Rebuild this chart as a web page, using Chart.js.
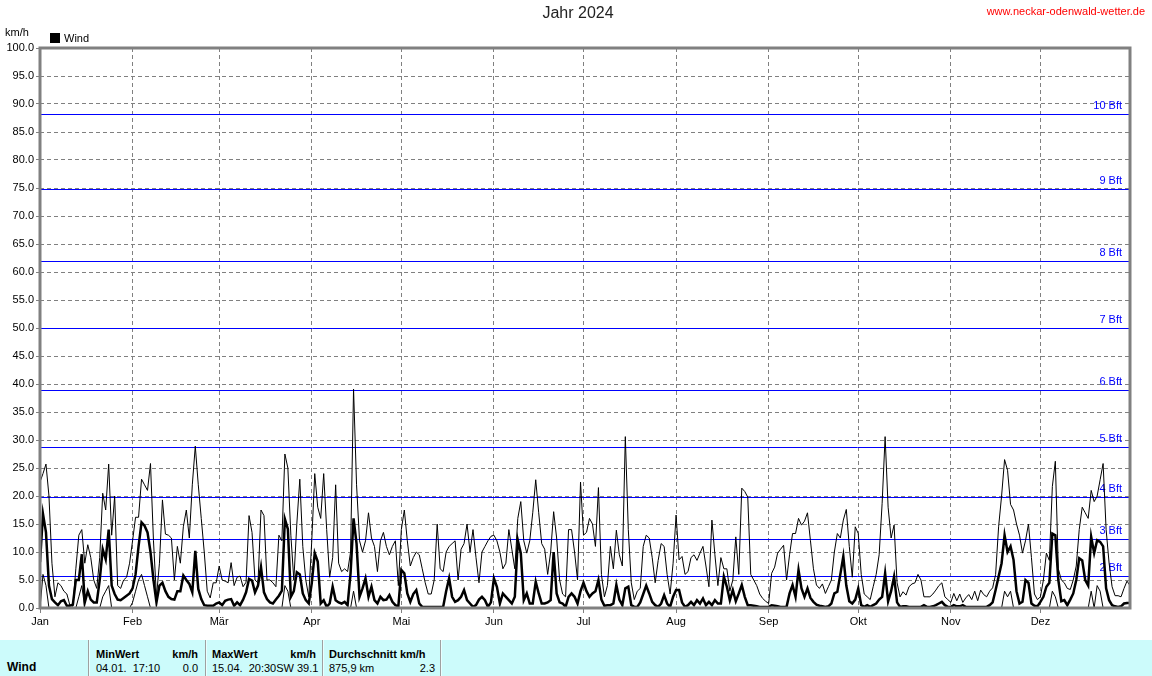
<!DOCTYPE html>
<html lang="de">
<head>
<meta charset="UTF-8">
<title>Jahr 2024 - Wind</title>
<script src="https://cdnjs.cloudflare.com/ajax/libs/Chart.js/4.4.0/chart.umd.min.js"></script>
<style>
    body { margin: 0; background: #fff; font-family: "Liberation Sans", Arial, sans-serif; }
    #wrap { position: relative; width: 1152px; height: 676px; overflow: hidden; }
    #chart { position: absolute; left: 0; top: 0; }
    .txt { position: absolute; white-space: nowrap; font-size: 11px; line-height: 12px; color: #000; }
    #title { left: 0; width: 1156px; text-align: center; top: 4px; font-size: 16px; line-height: 18px; color: #222; }
    #url { right: 7px; top: 5px; color: #ff0000; }
    #unit { left: 5px; top: 26px; }
    #legendBox { position: absolute; left: 50px; top: 33px; width: 10px; height: 10px; background: #000; }
    #legendText { left: 64px; top: 32px; }
    #table { position: absolute; left: 0; top: 640px; width: 1152px; height: 36px; background: #ccfbfb; }
    .sep { position: absolute; top: 0; width: 1px; height: 36px; background: #a0a0a0; border-right: 1px solid #e8ffff; }
    .b { font-weight: bold; }
    .r { text-align: right; }
</style>
</head>
<body>
<div id="wrap">
    <canvas id="chart" width="1152" height="640"></canvas>
    <div class="txt" id="title">Jahr 2024</div>
    <div class="txt" id="url">www.neckar-odenwald-wetter.de</div>
    <div class="txt" id="unit">km/h</div>
    <div id="legendBox"></div>
    <div class="txt" id="legendText">Wind</div>

    <div id="table">
        <div class="sep" style="left:88px"></div>
        <div class="sep" style="left:205px"></div>
        <div class="sep" style="left:322px"></div>
        <div class="sep" style="left:440px"></div>
        <div class="txt b" style="left:7px; top:21px; font-size:12px;">Wind</div>

        <div class="txt b" style="left:96px; top:8px;">MinWert</div>
        <div class="txt b r" style="right:954px; top:8px;">km/h</div>
        <div class="txt" style="left:96px; top:22px;">04.01.&nbsp; 17:10</div>
        <div class="txt r" style="right:954px; top:22px;">0.0</div>

        <div class="txt b" style="left:212px; top:8px;">MaxWert</div>
        <div class="txt b r" style="right:836px; top:8px;">km/h</div>
        <div class="txt" style="left:212px; top:22px;">15.04.&nbsp; 20:30SW 39.1</div>

        <div class="txt b" style="left:329px; top:8px;">Durchschnitt km/h</div>
        <div class="txt" style="left:329px; top:22px;">875,9 km</div>
        <div class="txt r" style="right:717px; top:22px;">2.3</div>
    </div>
</div>

<script>
    // month starts (day index in 2024) and their labels
    const monthStarts = [0, 31, 60, 91, 121, 152, 182, 213, 244, 274, 305, 335];
    const monthNames = ['Jan', 'Feb', 'Mär', 'Apr', 'Mai', 'Jun', 'Jul', 'Aug', 'Sep', 'Okt', 'Nov', 'Dez'];

    // Beaufort limits in km/h
    const bftLimits = [5.76, 12.24, 19.8, 28.8, 38.88, 50.04, 61.92, 74.88, 88.2];
    const bftLabels = ['2 Bft', '3 Bft', '4 Bft', '5 Bft', '6 Bft', '7 Bft', '8 Bft', '9 Bft', '10 Bft'];

    // daily maximum (km/h), one value per day
    const windMax = [
        22.5, 24, 25.7, 20, 8, 2, 4.5, 4, 3, 2.5, 0.5, 0.3, 7, 13, 14, 8, 11.3, 9, 5, 3.5, 9, 20.5, 17.5, 25.7, 13, 20, 4, 3.5, 5, 5.5, 8,
        12, 16.2, 16.2, 23, 22, 21, 25.8, 12, 2, 8, 19.3, 13.2, 13, 12.5, 5, 11, 8, 14.5, 17.5, 12.5, 22, 28.9, 22, 16, 10, 3, 1.8, 4.5, 4.5,
        7.5, 5, 4.8, 4.5, 8.1, 4, 5.5, 5.7, 3.8, 4.6, 16.5, 13.5, 5, 4.5, 17.5, 16.5, 5, 5, 4.5, 3.8, 13, 12, 27.5, 25, 13, 5, 15, 23, 11, 5, 2,
        12, 24, 18, 16, 24, 14, 5.5, 9, 22, 8, 6.5, 7, 6.5, 10, 39.1, 22, 12, 10, 12, 17, 12.5, 11, 6.5, 12, 13.5, 11, 9.5, 11, 12, 4,
        14, 17.5, 12, 7.5, 9, 10, 9.5, 7, 4.5, 2.5, 2.5, 5, 15, 7, 6.5, 10, 11, 11.5, 12, 5, 10.5, 11.5, 15, 10, 14, 9, 4.5, 10, 11, 12, 12.8,
        13, 12, 10, 7, 8, 14, 10.5, 7, 16, 19, 12, 9.8, 12, 17, 22.9, 17, 11.5, 10.5, 6, 10, 17.2, 12.5, 5, 2.5, 2, 14, 14, 10, 5, 22.5,
        13, 13.5, 16, 15, 11, 21.5, 6, 2, 4, 11, 7, 13.9, 9.5, 7.5, 30.6, 14, 4.5, 1.5, 3, 3.5, 11, 13, 12.5, 9, 4.5, 8.5, 11.5, 11, 6, 2.5, 8,
        16.6, 8.6, 9.2, 6, 6.5, 9, 9.5, 8.5, 9.8, 11, 7.5, 3.8, 15.7, 9.5, 4, 9, 7, 7, 3, 5, 12.7, 6, 21.4, 20.8, 19.8, 6, 5, 4, 2.5, 1.7, 1.2,
        0.8, 6.2, 7.3, 9.8, 10.5, 11.2, 5, 9.5, 13.3, 13.3, 16, 14.8, 15.5, 17, 12, 7, 4.1, 3.5, 4.3, 2.6, 3.8, 5, 10, 13.3, 12.5, 15.7, 17.6, 11, 5.5, 14.5,
        13.3, 6, 2.5, 2, 1.5, 3.8, 6, 9.5, 18.7, 30.6, 18, 12.5, 14.8, 4.5, 2, 2.9, 2.3, 3.8, 4.3, 4.5, 6, 5, 2, 2, 2, 2.5, 3.2, 4, 4.5, 2, 1.5,
        1, 2.6, 1.3, 2.5, 1, 1.8, 2.4, 1.5, 3, 1.3, 3.2, 2.4, 2, 3, 3.6, 6, 14.5, 20, 26.5, 24.6, 18.5, 17.5, 15, 13, 9.8, 12, 15, 9, 2.5, 1.5,
        2, 5, 9.8, 8.5, 21.7, 26.2, 7, 5, 4.5, 3.5, 3.3, 5, 7.5, 14, 18, 17, 16, 21, 19, 20, 22.9, 25.8, 14, 8, 3.8, 2.2, 2.2, 2, 3.5, 4.8, 4
    ];

    // daily average (km/h)
    const windAvg = [
        8.2, 16.8, 13.5, 4, 1.6, 1, 0.5, 1.2, 1.4, 0.4, 0.4, 0.6, 5, 5, 9.6, 1, 3, 1.5, 1, 1, 5, 10.5, 8.7, 14, 4, 2.5, 1.5, 1.4, 1.8, 2.2, 2.6,
        3.5, 6, 11, 15.3, 14.7, 13.5, 10, 5, 1, 4, 4.5, 3, 2, 1.6, 1.5, 3, 3, 5.8, 5, 4.3, 2.8, 10.2, 3.4, 1.6, 0.5, 0.4, 0.4, 0.4, 0.8,
        1, 0.5, 1.3, 1.5, 1.6, 0.4, 1, 0.5, 1.5, 2.8, 5.2, 4.9, 2.8, 4, 7.3, 2.8, 1.6, 1, 0.8, 1.5, 2.2, 3.1, 15.9, 14.1, 2, 3, 6.4, 6, 2.6, 1.4, 0.8,
        4.4, 9.8, 8.3, 0.8, 1.4, 0.2, 0.8, 3.8, 1.4, 1, 0.8, 1.1, 0.5, 6.2, 16, 11.5, 2, 3.5, 5.3, 2, 3.8, 1.4, 0.8, 2, 1.4, 1.5, 2.3, 1.1, 0.5, 0.3,
        6.8, 6.2, 2.6, 1.1, 2.5, 3.2, 0.8, 0.2, 0.2, 0.2, 0.2, 0.2, 0.2, 0.2, 0.2, 3, 5.3, 2, 1.1, 1.4, 2, 3.2, 1.4, 0.8, 0.2, 0.5, 1.5, 2, 1.4, 0.2, 1,
        5.3, 3.8, 0.8, 2.6, 2, 1.4, 0.8, 2, 12.1, 9.8, 1.4, 2.6, 0.8, 0.8, 4.7, 2.6, 0.8, 0.8, 1, 1.4, 10, 2.6, 1, 0.8, 0.2, 2, 2.6, 2, 0.8, 3,
        4.5, 3, 2, 2.6, 3, 5, 1.5, 0.4, 0.5, 0.5, 0.8, 4.1, 1.5, 0.5, 3.5, 3.8, 0.5, 0.2, 0.2, 1, 2.5, 4, 2.6, 1.1, 0.5, 0.2, 0.8, 2.3, 0.8, 0.2, 2,
        3.2, 3.2, 1, 0.2, 0.5, 1.1, 0.5, 1.4, 0.8, 1.7, 0.5, 1.1, 0.5, 1.4, 0.8, 0.8, 5.6, 3.8, 1.4, 3.2, 1.2, 2.6, 4.1, 2, 0.5, 0.5, 0.4, 0.3, 0.2, 0.2, 0.2,
        0.2, 0.5, 0.4, 0.3, 0.2, 0.2, 0.2, 2.6, 4.1, 2, 6.8, 3.5, 2, 3.5, 1.8, 1.1, 0.6, 0.4, 0.3, 0.2, 0.3, 0.8, 2.6, 2.9, 6, 9.2, 4, 1.2, 0.8, 1.5,
        3.5, 0.5, 0.2, 0.5, 0.2, 0.5, 0.8, 1.5, 2, 6.2, 1.2, 3, 5.6, 1, 0.2, 0.3, 0.3, 0.2, 0.2, 0.2, 0.2, 0.2, 0.5, 0.2, 0.2, 0.3, 0.5, 0.8, 1.1, 0.5, 0.2,
        0.2, 0.5, 0.3, 0.3, 0.5, 0.2, 0.2, 0.2, 0.2, 0.2, 0.2, 0.2, 0.2, 0.5, 1, 3.2, 5.6, 8, 13, 10, 11, 8.6, 3, 0.8, 1.1, 5, 4.5, 0.8, 0.4, 0.3,
        1.1, 2, 3.8, 4.5, 13.3, 13, 5, 1.2, 1.4, 0.5, 1.5, 2.6, 5, 8.9, 8.5, 5, 4, 12.7, 9.8, 12.1, 11.8, 11, 3.5, 1.4, 0.5, 0.3, 0.2, 0.3, 0.8, 0.9, 0.9
    ];

    // daily minimum (km/h)
    const windMin = [
        0, 6, 4, 0, 0, 0, 0, 0, 0, 0, 0, 0, 0, 2, 4, 0, 0, 0, 0, 0, 0, 2, 3, 4, 0, 0, 0, 0, 0, 0, 0,
        1, 3, 5, 6, 4, 2, 0, 0, 0, 0, 0, 0, 0, 0, 0, 0, 0, 0, 0, 0, 0, 0, 0, 0, 0, 0, 0, 0, 0,
        0, 0, 0, 0, 0, 0, 0, 0, 0, 0, 0, 0, 0, 0, 0, 0, 0, 0, 0, 0, 0, 0, 4, 3, 0, 0, 0, 0, 0, 0, 0,
        0, 0, 0, 0, 0, 0, 0, 0, 0, 0, 0, 0, 0, 0, 3, 0, 0, 0, 0, 0, 0, 0, 0, 0, 0, 0, 0, 0, 0, 0,
        0, 0, 0, 0, 0, 0, 0, 0, 0, 0, 0, 0, 0, 0, 0, 0, 0, 0, 0, 0, 0, 0, 0, 0, 0, 0, 0, 0, 0, 0, 0,
        0, 0, 0, 0, 0, 0, 0, 0, 0, 0, 0, 0, 0, 0, 0, 0, 0, 0, 0, 0, 0, 0, 0, 0, 0, 0, 0, 0, 0, 0,
        0, 0, 0, 0, 0, 0, 0, 0, 0, 0, 0, 0, 0, 0, 0, 0, 0, 0, 0, 0, 0, 0, 0, 0, 0, 0, 0, 0, 0, 0, 0,
        0, 0, 0, 0, 0, 0, 0, 0, 0, 0, 0, 0, 0, 0, 0, 0, 0, 0, 0, 0, 0, 0, 0, 0, 0, 0, 0, 0, 0, 0, 0,
        0, 0, 0, 0, 0, 0, 0, 0, 0, 0, 0, 0, 0, 0, 0, 0, 0, 0, 0, 0, 0, 0, 0, 0, 0, 0, 0, 0, 0, 0,
        0, 0, 0, 0, 0, 0, 0, 0, 0, 0, 0, 0, 0, 0, 0, 0, 0, 0, 0, 0, 0, 0, 0, 0, 0, 0, 0, 0, 0, 0, 0,
        0, 0, 0, 0, 0, 0, 0, 0, 0, 0, 0, 0, 0, 0, 0, 0, 0, 0, 3, 2, 3, 0, 0, 0, 0, 0, 0, 0, 0, 0,
        0, 0, 0, 0, 3, 2, 0, 0, 0, 0, 0, 0, 0, 0, 0, 0, 0, 3, 0, 4, 3, 0, 0, 0, 0, 0, 0, 0, 0, 0, 0
    ];

    const FONT = '"Liberation Sans", Arial, sans-serif';

    function toPoints(arr) {
        return arr.map((v, i) => ({ x: i, y: v }));
    }

    // Beaufort lines under the data, grey frame on top
    const bftPlugin = {
        id: 'bft',
        beforeDatasetsDraw(chart) {
            const { ctx, chartArea: a } = chart;
            const y = chart.scales.y;
            ctx.save();
            ctx.strokeStyle = '#0000ff';
            ctx.fillStyle = '#0000ff';
            ctx.lineWidth = 1;
            ctx.font = '11px ' + FONT;
            ctx.textAlign = 'right';
            ctx.textBaseline = 'bottom';
            bftLimits.forEach((v, k) => {
                const py = Math.round(y.getPixelForValue(v)) + 0.5;
                ctx.beginPath();
                ctx.moveTo(a.left, py);
                ctx.lineTo(a.right, py);
                ctx.stroke();
                ctx.fillText(bftLabels[k], a.right - 8, py - 3);
            });
            ctx.restore();
        },
        afterDatasetsDraw(chart) {
            const { ctx, chartArea: a } = chart;
            ctx.save();
            ctx.strokeStyle = '#808080';
            ctx.lineWidth = 3;
            ctx.strokeRect(a.left, a.top, a.right - a.left, a.bottom - a.top);
            ctx.restore();
        }
    };

    new Chart(document.getElementById('chart'), {
        type: 'line',
        data: {
            datasets: [
                { label: 'Min', data: toPoints(windMin), borderColor: '#000', borderWidth: 1 },
                { label: 'Max', data: toPoints(windMax), borderColor: '#000', borderWidth: 1 },
                { label: 'Wind', data: toPoints(windAvg), borderColor: '#000', borderWidth: 2.5 }
            ]
        },
        options: {
            responsive: false,
            animation: false,
            devicePixelRatio: 1,
            layout: { padding: { top: 48, right: 22, left: 0, bottom: 0 } },
            elements: {
                point: { radius: 0 },
                line: { tension: 0, borderJoinStyle: 'miter' }
            },
            plugins: {
                legend: { display: false },
                tooltip: { enabled: false }
            },
            scales: {
                x: {
                    type: 'linear',
                    min: 0,
                    max: 365,
                    afterBuildTicks: s => { s.ticks = monthStarts.map(v => ({ value: v })); },
                    afterFit: s => { s.height = 32; },
                    ticks: {
                        autoSkip: false,
                        maxRotation: 0,
                        padding: 2,
                        color: '#000',
                        font: { family: FONT, size: 11 },
                        callback: (v, i) => monthNames[i]
                    },
                    grid: { color: '#808080', lineWidth: 1, tickLength: 5, tickColor: '#808080', tickBorderDash: [] },
                    border: { display: false, dash: [4, 3] }
                },
                y: {
                    min: 0,
                    max: 100,
                    afterFit: s => { s.width = 40; },
                    ticks: {
                        stepSize: 5,
                        padding: 2,
                        color: '#000',
                        font: { family: FONT, size: 11 },
                        callback: v => v.toFixed(1)
                    },
                    grid: { color: '#808080', lineWidth: 1, tickLength: 4, tickColor: '#808080', tickBorderDash: [] },
                    border: { display: false, dash: [4, 3] }
                }
            }
        },
        plugins: [bftPlugin]
    });
</script>
</body>
</html>
